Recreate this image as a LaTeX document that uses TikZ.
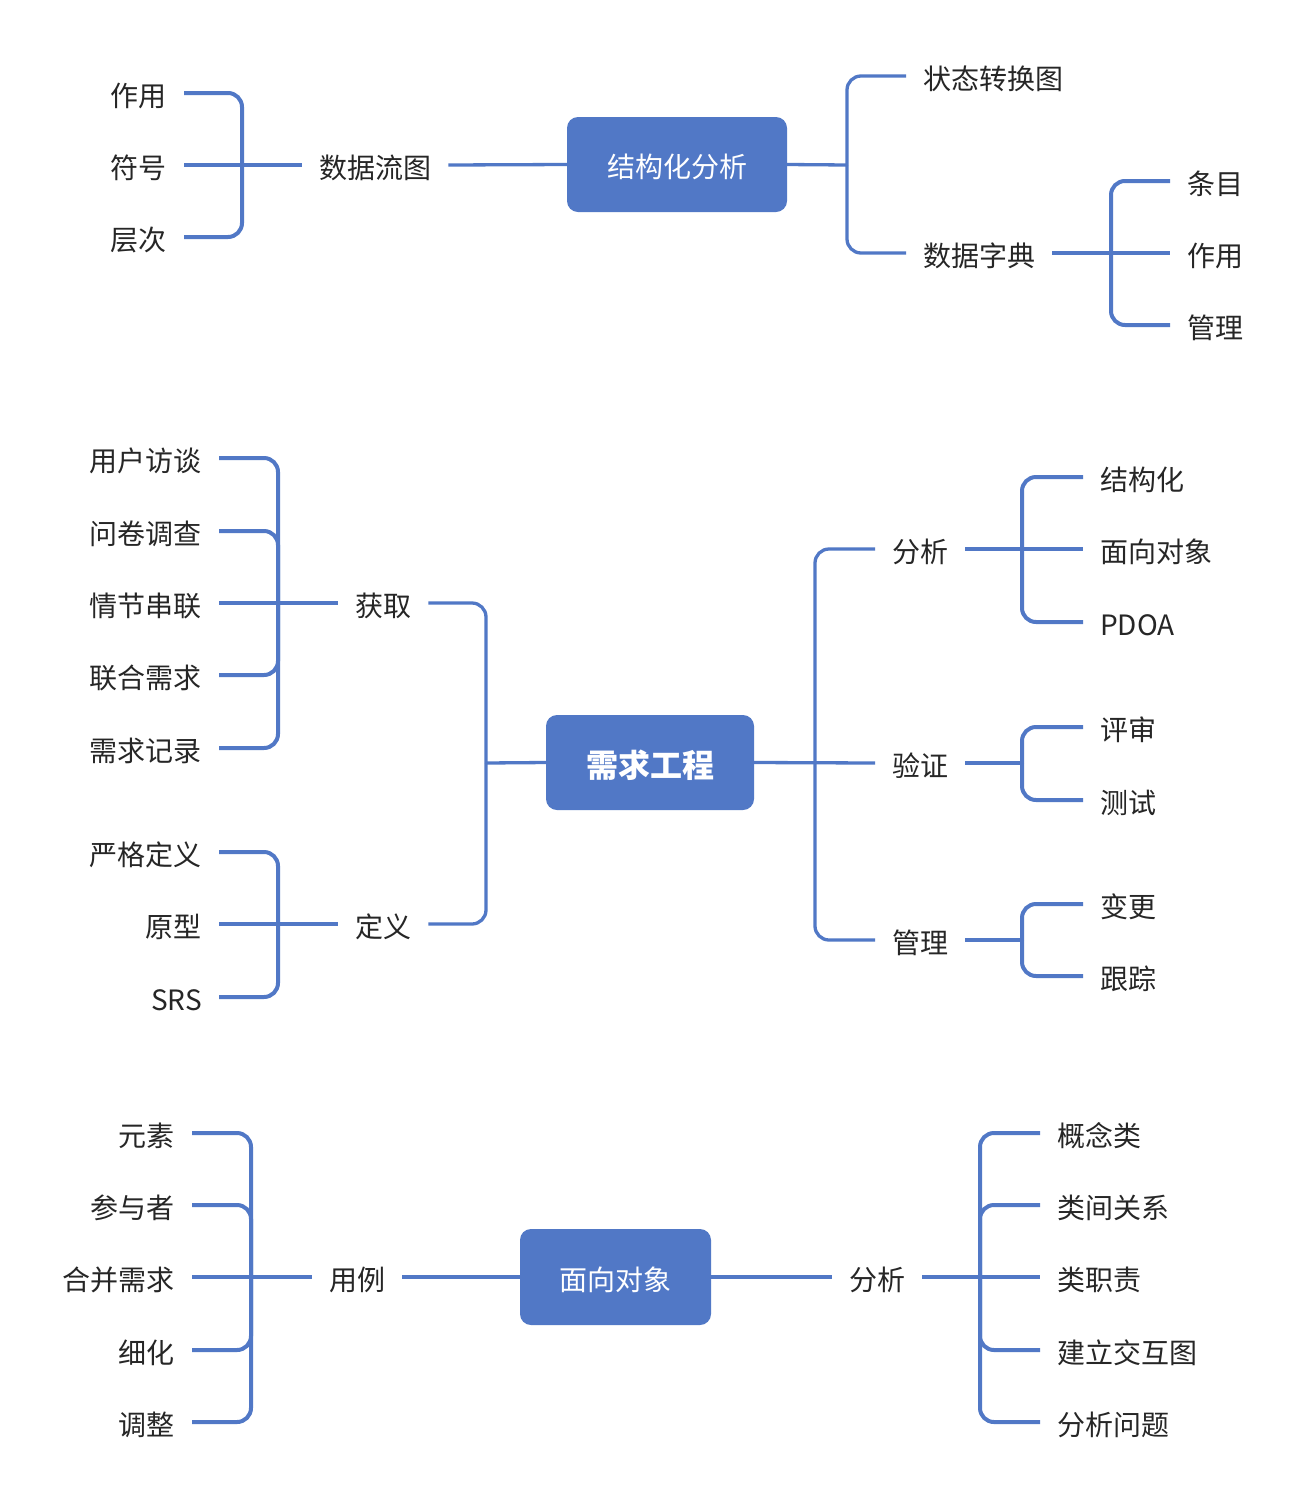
\documentclass[tikz,border=0pt]{standalone}
\usepackage{fontspec}
\setmainfont{Noto Sans CJK SC}
\definecolor{mmblue}{RGB}{81,120,198}
\definecolor{mmtext}{RGB}{38,38,38}
\begin{document}
\begin{tikzpicture}[x=1pt,y=-1pt,
  lbl/.style={font=\fontsize{28}{34}\selectfont, text=mmtext, inner xsep=17pt, inner ysep=0pt, text height=27pt, text depth=1pt},
  boxn/.style={fill=mmblue, rounded corners=11pt, text=white, inner sep=0pt, font=\fontsize{28}{34}\selectfont, text height=27pt, text depth=1pt},
  cone/.style={draw=mmblue, line width=3.3pt},
  ctwo/.style={draw=mmblue, line width=4pt},
  rc/.style={rounded corners=14pt}]
\useasboundingbox[fill=white] (0,0) rectangle (1308,1500);

% ===== Top: 结构化分析 =====
\node[boxn, minimum width=220pt, minimum height=95pt] (sa) at (677,164.5) {结构化分析};
\node[lbl, anchor=west] (dfd) at (302,165) {数据流图};
\node[lbl, anchor=east] (t1) at (184,93) {作用};
\node[lbl, anchor=east] (t2) at (184,165) {符号};
\node[lbl, anchor=east] (t3) at (184,237) {层次};
\node[lbl, anchor=west] (st) at (906,76) {状态转换图};
\node[lbl, anchor=west] (dd) at (906,253) {数据字典};
\node[lbl, anchor=west] (d1) at (1170,181) {条目};
\node[lbl, anchor=west] (d2) at (1170,253) {作用};
\node[lbl, anchor=west] (d3) at (1170,325) {管理};
\coordinate (j1) at (242,165);
\coordinate (j2) at (847,165);
\coordinate (j3) at (1111,253);

\draw[ctwo] (t2.east) -- (dfd.west);
\draw[ctwo,rc] (j1) |- (t1.east);
\draw[ctwo,rc] (j1) |- (t3.east);
\draw[cone] (dfd.east) -- (sa.west);
\draw[cone] (sa.east) -- (j2);
\draw[cone,rc] (j2) |- (st.west);
\draw[cone,rc] (j2) |- (dd.west);
\draw[ctwo] (dd.east) -- (d2.west);
\draw[ctwo,rc] (j3) |- (d1.west);
\draw[ctwo,rc] (j3) |- (d3.west);

% ===== Middle: 需求工程 =====
\node[boxn, minimum width=208pt, minimum height=95pt, font=\fontsize{32}{38}\selectfont\bfseries, text height=31pt, text depth=1pt] (req) at (650,762.5) {需求工程};
\node[lbl, anchor=east] (m1) at (219,458) {用户访谈};
\node[lbl, anchor=east] (m2) at (219,531) {问卷调查};
\node[lbl, anchor=east] (m3) at (219,603) {情节串联};
\node[lbl, anchor=east] (m4) at (219,675) {联合需求};
\node[lbl, anchor=east] (m5) at (219,748) {需求记录};
\node[lbl, anchor=west] (hq) at (338,603) {获取};
\node[lbl, anchor=east] (n1) at (219,852) {严格定义};
\node[lbl, anchor=east] (n2) at (219,924) {原型};
\node[lbl, anchor=east] (n3) at (219,997) {SRS};
\node[lbl, anchor=west] (dy) at (338,924) {定义};
\node[lbl, anchor=west] (fx) at (875,549) {分析};
\node[lbl, anchor=west] (yz) at (875,763) {验证};
\node[lbl, anchor=west] (gl) at (875,940) {管理};
\node[lbl, anchor=west] (a1) at (1083,477) {结构化};
\node[lbl, anchor=west] (a2) at (1083,549) {面向对象};
\node[lbl, anchor=west] (a3) at (1083,622) {PDOA};
\node[lbl, anchor=west] (v1) at (1083,727) {评审};
\node[lbl, anchor=west] (v2) at (1083,800) {测试};
\node[lbl, anchor=west] (g1) at (1083,904) {变更};
\node[lbl, anchor=west] (g2) at (1083,976) {跟踪};
\coordinate (j4) at (278,603);
\coordinate (j5) at (486,763);
\coordinate (j6) at (278,924);
\coordinate (j7) at (815,763);
\coordinate (j8) at (1022,549);
\coordinate (j9) at (1022,763);
\coordinate (j10) at (1022,940);

\draw[ctwo] (m3.east) -- (hq.west);
\draw[ctwo,rc] (j4) |- (m1.east);
\draw[ctwo,rc] (j4) |- (m2.east);
\draw[ctwo,rc] (j4) |- (m4.east);
\draw[ctwo,rc] (j4) |- (m5.east);
\draw[cone,rc] (hq.east) -| (j5);
\draw[cone,rc] (dy.east) -| (j5);
\draw[cone] (j5) -- (req.west);
\draw[ctwo] (n2.east) -- (dy.west);
\draw[ctwo,rc] (j6) |- (n1.east);
\draw[ctwo,rc] (j6) |- (n3.east);
\draw[cone] (req.east) -- (yz.west);
\draw[cone,rc] (j7) |- (fx.west);
\draw[cone,rc] (j7) |- (gl.west);
\draw[ctwo] (fx.east) -- (a2.west);
\draw[ctwo,rc] (j8) |- (a1.west);
\draw[ctwo,rc] (j8) |- (a3.west);
\draw[ctwo] (yz.east) -- (j9);
\draw[ctwo,rc] (j9) |- (v1.west);
\draw[ctwo,rc] (j9) |- (v2.west);
\draw[ctwo] (gl.east) -- (j10);
\draw[ctwo,rc] (j10) |- (g1.west);
\draw[ctwo,rc] (j10) |- (g2.west);

% ===== Bottom: 面向对象 =====
\node[boxn, minimum width=191pt, minimum height=96pt] (oo) at (615.5,1277) {面向对象};
\node[lbl, anchor=east] (u1) at (192,1133) {元素};
\node[lbl, anchor=east] (u2) at (192,1205) {参与者};
\node[lbl, anchor=east] (u3) at (192,1277) {合并需求};
\node[lbl, anchor=east] (u4) at (192,1350) {细化};
\node[lbl, anchor=east] (u5) at (192,1422) {调整};
\node[lbl, anchor=west] (yl) at (312,1277) {用例};
\node[lbl, anchor=west] (fx2) at (832,1277) {分析};
\node[lbl, anchor=west] (w1) at (1040,1133) {概念类};
\node[lbl, anchor=west] (w2) at (1040,1205) {类间关系};
\node[lbl, anchor=west] (w3) at (1040,1277) {类职责};
\node[lbl, anchor=west] (w4) at (1040,1350) {建立交互图};
\node[lbl, anchor=west] (w5) at (1040,1422) {分析问题};
\coordinate (j11) at (251,1277);
\coordinate (j12) at (980,1277);

\draw[ctwo] (u3.east) -- (yl.west);
\draw[ctwo,rc] (j11) |- (u1.east);
\draw[ctwo,rc] (j11) |- (u2.east);
\draw[ctwo,rc] (j11) |- (u4.east);
\draw[ctwo,rc] (j11) |- (u5.east);
\draw[cone] (yl.east) -- (oo.west);
\draw[cone] (oo.east) -- (fx2.west);
\draw[ctwo] (fx2.east) -- (w3.west);
\draw[ctwo,rc] (j12) |- (w1.west);
\draw[ctwo,rc] (j12) |- (w2.west);
\draw[ctwo,rc] (j12) |- (w4.west);
\draw[ctwo,rc] (j12) |- (w5.west);
\end{tikzpicture}
\end{document}
